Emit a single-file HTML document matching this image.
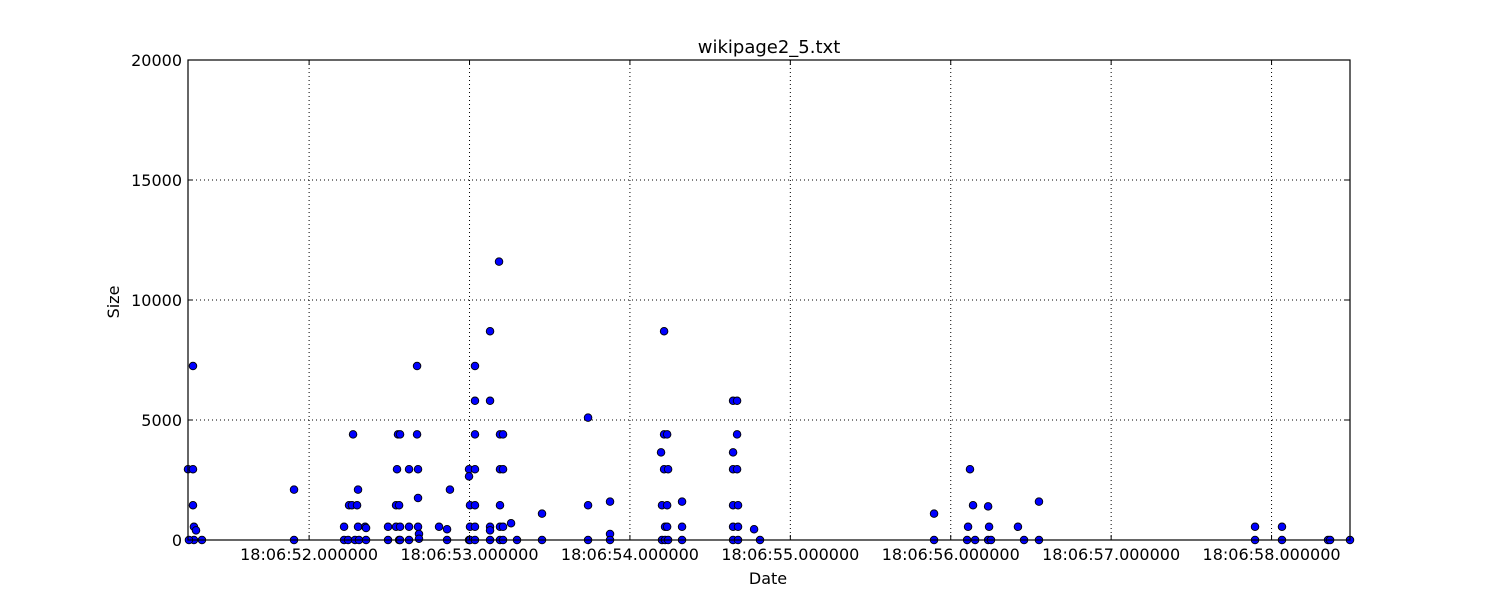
<!DOCTYPE html>
<html><head><meta charset="utf-8"><style>
body{margin:0;background:#fff;font-family:"DejaVu Sans","Liberation Sans",sans-serif}
svg{display:block}
</style></head><body>
<svg id="chart" width="1500" height="600" xmlns="http://www.w3.org/2000/svg" font-family="DejaVu Sans, Liberation Sans, sans-serif">
<rect width="1500" height="600" fill="#fff"/>
<text x="769" y="53" text-anchor="middle" font-size="18">wikipage2_5.txt</text>
<text x="768" y="584" text-anchor="middle" font-size="16">Date</text>
<text x="119" y="302" text-anchor="middle" font-size="16" transform="rotate(-90 119 302)">Size</text>
<g id="grid"></g>
<g id="pts"></g>
<rect x="188" y="60" width="1162" height="480" fill="none" stroke="#000" stroke-width="1.2"/>
<g id="ticks"></g>
</svg>
<script>
// times: seconds after 18:06:00
const times = [51.245,51.276,51.276,51.276,51.282,51.295,51.282,51.251,51.332,
51.906,51.906,
52.218,52.218,52.243,52.249,52.267,52.274,52.286,52.299,52.305,52.305,52.311,52.349,52.355,52.355,
52.492,52.492,52.542,52.542,52.548,52.554,52.561,52.561,52.567,52.567,52.567,52.623,52.623,52.623,
52.673,52.673,52.679,52.679,52.679,52.685,52.685,52.810,52.860,52.860,52.878,
52.997,52.997,52.997,53.003,53.003,53.003,53.034,53.034,53.034,53.034,53.034,53.034,53.034,
53.128,53.128,53.128,53.128,53.128,53.184,53.190,53.209,53.190,53.209,53.190,53.190,53.209,53.190,53.209,53.259,53.296,53.452,53.452,
53.739,53.739,53.739,53.876,53.876,53.876,
54.213,54.194,54.213,54.232,54.213,54.238,54.200,54.232,54.219,54.232,54.200,54.219,54.238,54.325,54.325,54.325,
54.643,54.668,54.668,54.643,54.643,54.668,54.643,54.674,54.643,54.674,54.643,54.674,54.774,54.811,
55.896,55.896,56.108,56.102,56.120,56.139,56.152,56.233,56.239,56.233,56.251,56.419,56.457,56.550,56.550,
57.897,57.897,58.065,58.065,58.352,58.365,58.489];
const sizes = [2950,7250,2950,1450,550,400,0,0,0,
2100,0,
550,0,0,1450,1450,4400,0,1450,2100,550,0,550,500,0,
550,0,550,1450,2950,4400,1450,0,4400,550,0,2950,0,550,
7250,4400,2950,1750,550,250,50,550,450,0,2100,
2950,2650,0,1450,550,0,7250,5800,4400,2950,1450,550,0,
8700,5800,550,400,0,11600,4400,4400,2950,2950,1450,550,550,0,0,700,0,1100,0,
5100,1450,0,1600,250,0,
8700,3650,4400,4400,2950,2950,1450,1450,550,550,0,0,0,1600,550,0,
5800,5800,4400,3650,2950,2950,1450,1450,550,550,0,0,450,0,
1100,0,550,0,2950,1450,0,1400,550,0,0,550,0,1600,0,
550,0,550,0,0,0,0];
const xTicks = [52,53,54,55,56,57,58];
const xTickLabels = ["18:06:52.000000","18:06:53.000000","18:06:54.000000","18:06:55.000000","18:06:56.000000","18:06:57.000000","18:06:58.000000"];
const yTicks = [0,5000,10000,15000,20000];

const NS="http://www.w3.org/2000/svg";
const X0=188,X1=1350,Y0=540,Y1=60,T0=51.245,T1=58.489;
const xs=t=>X0+(t-T0)/(T1-T0)*(X1-X0);
const ys=v=>Y0-v/20000*(Y0-Y1);
function mk(tag,attrs,parent){const e=document.createElementNS(NS,tag);for(const k in attrs)e.setAttribute(k,attrs[k]);parent.appendChild(e);return e;}
const grid=document.getElementById('grid'),tk=document.getElementById('ticks'),pts=document.getElementById('pts');
xTicks.forEach((t,i)=>{const x=xs(t);
 const g=mk('line',{x1:x,x2:x,y1:Y1,y2:Y0,stroke:'#000','stroke-dasharray':'1,3','stroke-width':1},grid);
 
 
 mk('line',{x1:x,x2:x,y1:Y0,y2:Y0-5,stroke:'#000'},tk);
 mk('line',{x1:x,x2:x,y1:Y1,y2:Y1+5,stroke:'#000'},tk);
 const l=mk('text',{x:x,y:560,'text-anchor':'middle','font-size':16},tk);l.textContent=xTickLabels[i];
 
 
});
yTicks.forEach(v=>{const y=ys(v);
 const g=mk('line',{x1:X0,x2:X1,y1:y,y2:y,stroke:'#000','stroke-dasharray':'1,3','stroke-width':1},grid);
 
 
 mk('line',{x1:X0,x2:X0+5,y1:y,y2:y,stroke:'#000'},tk);
 mk('line',{x1:X1,x2:X1-5,y1:y,y2:y,stroke:'#000'},tk);
 const l=mk('text',{x:182,y:y+6,'text-anchor':'end','font-size':16},tk);l.textContent=v;
 
 
});
times.forEach((t,i)=>{
 const c=mk('circle',{cx:xs(t),cy:ys(sizes[i]),r:3.8,fill:'#0000ff',stroke:'#000','stroke-width':0.9},pts);
 
 
});
</script>
</body></html>
